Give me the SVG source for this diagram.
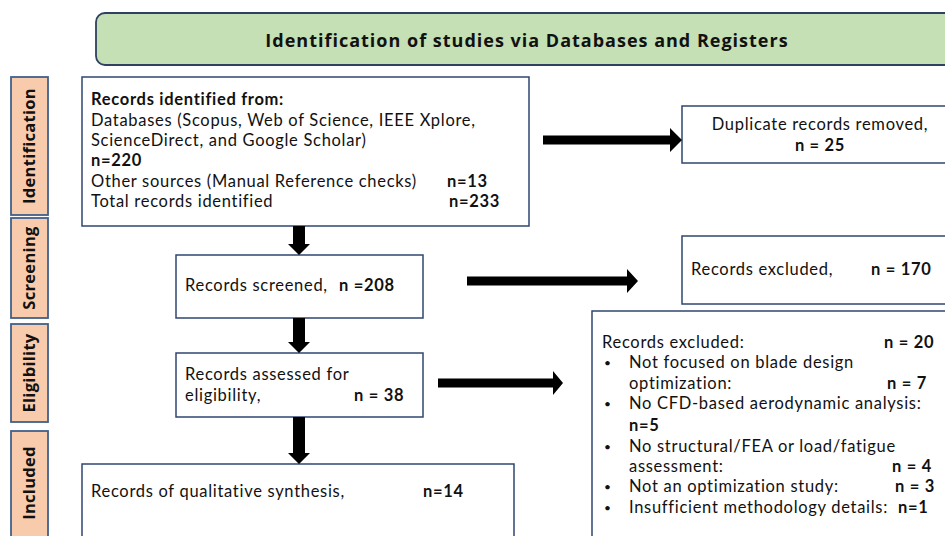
<svg xmlns="http://www.w3.org/2000/svg" width="945" height="536" viewBox="0 0 945 536">
<style>
text{font-family:Lato,"Open Sans","Liberation Sans",Arial,sans-serif;font-size:16.5px;letter-spacing:0.7px;fill:#111}
.b{font-weight:bold}
.bu{font-size:12px}
.box{fill:#fff;stroke:#2f4570;stroke-width:1.5}
.side{fill:#f8cbad;stroke:#41608a;stroke-width:1.8}
.st{font-family:"Open Sans",Arial,sans-serif;font-weight:bold;font-size:16.5px;letter-spacing:0.3px;text-anchor:middle}
.arr{fill:#000}
</style>
<rect width="945" height="536" fill="#fff"/>
<g id="header">
<rect x="96" y="13" width="870" height="52" rx="9" fill="#c5e0b4" stroke="#2f4060" stroke-width="1.8"/>
<text x="527" y="47" class="b" text-anchor="middle" style="font-family:'Open Sans',Arial,sans-serif;font-size:18px;letter-spacing:1px">Identification of studies via Databases and Registers</text>
</g>
<g id="phase-identification"><rect class="side" x="11" y="77" width="37" height="138"/><text class="st" transform="translate(35,146) rotate(-90)">Identification</text></g>
<g id="phase-screening"><rect class="side" x="11" y="218" width="37" height="100"/><text class="st" transform="translate(35,268) rotate(-90)">Screening</text></g>
<g id="phase-eligibility"><rect class="side" x="11" y="324" width="37" height="98"/><text class="st" transform="translate(35,373) rotate(-90)">Eligibility</text></g>
<g id="phase-included"><rect class="side" x="11" y="431" width="37" height="120"/><text class="st" transform="translate(35,483) rotate(-90)">Included</text></g>

<g id="identified">
<rect class="box" x="82" y="77" width="447" height="149"/>
<text x="91" y="105" class="b">Records identified from:</text>
<text x="91" y="126">Databases (Scopus, Web of Science,  IEEE Xplore,</text>
<text x="91" y="146">ScienceDirect, and Google Scholar)</text>
<text x="91" y="166" class="b">n=220</text>
<text x="91" y="187">Other sources (Manual Reference checks)</text>
<text x="447" y="187" class="b">n=13</text>
<text x="91" y="207">Total records identified</text>
<text x="449" y="207" class="b">n=233</text>
</g>
<g id="duplicates">
<rect class="box" x="682" y="106" width="280" height="57"/>
<text x="820" y="130" text-anchor="middle">Duplicate records removed,</text>
<text x="820" y="151" text-anchor="middle" class="b">n = 25</text>
</g>
<g id="screened">
<rect class="box" x="176" y="255" width="247" height="63"/>
<text x="185" y="291">Records screened,</text>
<text x="339" y="291" class="b">n =208</text>
</g>
<g id="excluded-screening">
<rect class="box" x="682" y="236" width="280" height="68"/>
<text x="691" y="275">Records excluded,</text>
<text x="871" y="275" class="b">n = 170</text>
</g>
<g id="eligibility">
<rect class="box" x="176" y="353" width="247" height="64"/>
<text x="185" y="380">Records assessed for</text>
<text x="185" y="401">eligibility,</text>
<text x="354" y="401" class="b">n = 38</text>
</g>
<g id="excluded-eligibility">
<rect class="box" x="592" y="311" width="370" height="240"/>
<text x="602" y="348">Records excluded:</text>
<text x="884" y="348" class="b">n = 20</text>
<text x="604" y="367" class="bu">•</text><text x="629" y="368">Not focused on blade design</text>
<text x="629" y="389">optimization:</text><text x="887" y="389" class="b">n = 7</text>
<text x="604" y="408" class="bu">•</text><text x="629" y="409">No CFD-based aerodynamic analysis:</text>
<text x="629" y="431" class="b">n=5</text>
<text x="604" y="451" class="bu">•</text><text x="629" y="452">No structural/FEA or load/fatigue</text>
<text x="629" y="472">assessment:</text><text x="892" y="472" class="b">n = 4</text>
<text x="604" y="491" class="bu">•</text><text x="629" y="492">Not an optimization study:</text><text x="895" y="492" class="b">n = 3</text>
<text x="604" y="512" class="bu">•</text><text x="629" y="513">Insufficient methodology details:</text><text x="898" y="513" class="b">n=1</text>
</g>
<g id="included">
<rect class="box" x="82" y="464" width="432" height="90"/>
<text x="91" y="497">Records of qualitative synthesis,</text>
<text x="423" y="497" class="b">n=14</text>
</g>

<g id="connectors">
<path class="arr" d="M543,135.5 H670 V128 L682,140 L670,152 V144.5 H543 Z"/>
<path class="arr" d="M467,276.5 H627 V269 L638,281 L627,293 V285.5 H467 Z"/>
<path class="arr" d="M438,378.5 H553 V371 L563,383 L553,395 V387.5 H438 Z"/>
<path class="arr" d="M293,226 H305 V244 H310 L299,255 L288,244 H293 Z"/>
<path class="arr" d="M293,318 H305 V342 H310 L299,353 L288,342 H293 Z"/>
<path class="arr" d="M293,417 H305 V453 H310 L299,464 L288,453 H293 Z"/>
</g>
</svg>
